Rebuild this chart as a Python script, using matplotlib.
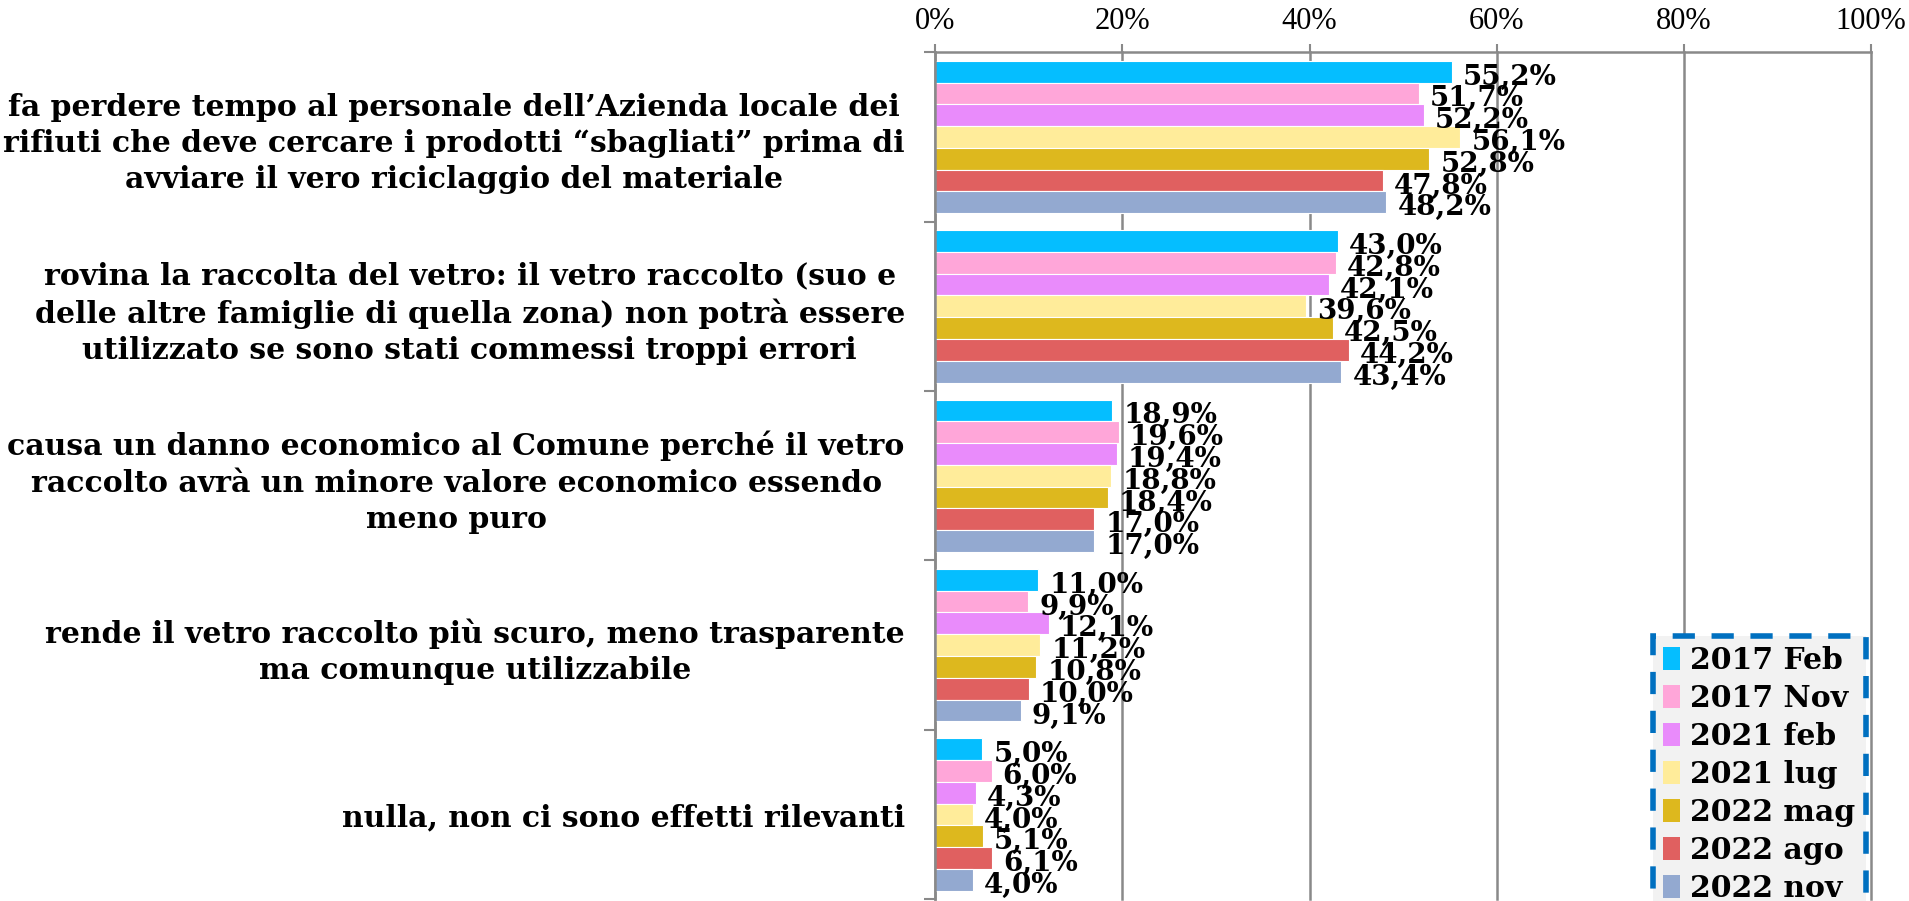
import numpy as np
import matplotlib
matplotlib.use("Agg")
import matplotlib.pyplot as plt
from matplotlib.patches import Patch

# data
categories = [
    "fa perdere tempo al personale dell\u2019Azienda locale dei\nrifiuti che deve cercare i prodotti \u201csbagliati\u201d prima di\navviare il vero riciclaggio del materiale",
    "rovina la raccolta del vetro: il vetro raccolto (suo e\ndelle altre famiglie di quella zona) non potr\u00e0 essere\nutilizzato se sono stati commessi troppi errori",
    "causa un danno economico al Comune perch\u00e9 il vetro\nraccolto avr\u00e0 un minore valore economico essendo\nmeno puro",
    "rende il vetro raccolto pi\u00f9 scuro, meno trasparente\nma comunque utilizzabile",
    "nulla, non ci sono effetti rilevanti",
]
series = ["2017 Feb", "2017 Nov", "2021 feb", "2021 lug", "2022 mag", "2022 ago", "2022 nov"]
feb17 = [55.2, 43.0, 18.9, 11.0, 5.0]
nov17 = [51.7, 42.8, 19.6, 9.9, 6.0]
feb21 = [52.2, 42.1, 19.4, 12.1, 4.3]
lug21 = [56.1, 39.6, 18.8, 11.2, 4.0]
mag22 = [52.8, 42.5, 18.4, 10.8, 5.1]
ago22 = [47.8, 44.2, 17.0, 10.0, 6.1]
nov22 = [48.2, 43.4, 17.0, 9.1, 4.0]
values = [feb17, nov17, feb21, lug21, mag22, ago22, nov22]
colors = ["#05BEFF", "#FFA6D9", "#E98BFB", "#FFEC9A", "#DDB81E", "#E06060", "#93A9D0"]
xticks = [0, 20, 40, 60, 80, 100]

label_font = "DejaVu Serif"
tick_font = "Liberation Serif"

fig = plt.figure(figsize=(19.09, 9.01), dpi=100)
ax = fig.add_axes([0.49, 0.002, 0.49, 0.94])

n = len(series)
bh = 0.9 / n
y0 = np.arange(len(categories))
for i, (name, vals, c) in enumerate(zip(series, values, colors)):
    ys = y0 - 0.45 + bh * (i + 0.5)
    ax.barh(ys, vals, height=bh, color=c, edgecolor="white", linewidth=0.8, label=name)
    for y, v in zip(ys, vals):
        ax.annotate(f"{v:.1f}%".replace(".", ","), (v, y), xytext=(8, -4),
                    textcoords="offset points", ha="left", va="center",
                    fontsize=20, fontweight="bold", family=label_font)

ax.set_xlim(0, 100)
ax.set_ylim(len(categories) - 0.5, -0.5)
ax.xaxis.tick_top()
ax.set_xticks(xticks)
ax.set_xticklabels([f"{t}%" for t in xticks], family=tick_font, fontsize=22)
ax.tick_params(axis="x", length=6, width=1.5, color="#898989", pad=6)
ax.grid(axis="x", color="#898989", linewidth=1.8)
for gl in ax.xaxis.get_gridlines():
    gl.set_clip_on(False)
ax.set_axisbelow(True)

ax.set_yticks(y0)
ax.set_yticklabels(categories, family=label_font, fontsize=21.5, fontweight="bold",
                   multialignment="center", linespacing=1.32)
ax.set_yticks(np.arange(len(categories) + 1) - 0.5, minor=True)
ax.tick_params(axis="y", which="major", length=0, pad=22)
ax.tick_params(axis="y", which="minor", length=8, width=1.5, color="#898989")

for s in ["right", "bottom"]:
    ax.spines[s].set_visible(False)
for s in ["left", "top"]:
    ax.spines[s].set_color("#898989")
    ax.spines[s].set_linewidth(1.8)

handles = [Patch(facecolor=c, label=s) for s, c in zip(series, colors)]
leg = fig.legend(handles=handles, loc="upper left", bbox_to_anchor=(0.858, 0.311),
                 prop={"family": label_font, "weight": "bold", "size": 21.5},
                 handlelength=0.55, handleheight=0.8, handletextpad=0.35,
                 labelspacing=0.3, borderpad=0.35, fancybox=False, framealpha=1)
fr = leg.get_frame()
fr.set_facecolor("#F2F2F2")
fr.set_edgecolor("#0070C0")
fr.set_linewidth(4)
fr.set_linestyle((0, (4, 3)))

fig.savefig("out.png", dpi=100)
